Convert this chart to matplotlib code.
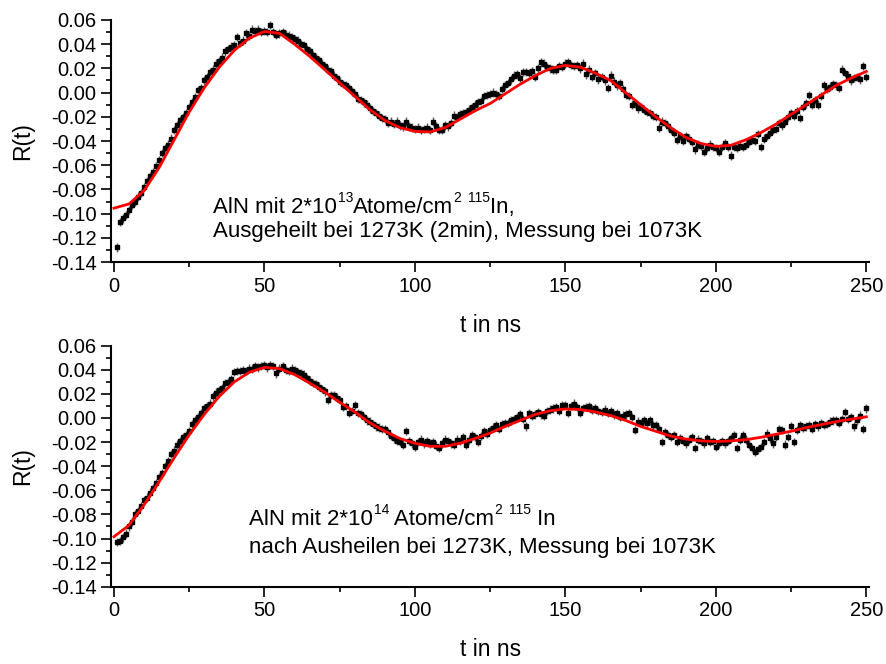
import numpy as np
import matplotlib
matplotlib.use("Agg")
import matplotlib.pyplot as plt
from matplotlib.ticker import MultipleLocator, FormatStrFormatter

plt.rcParams['font.family'] = ['Liberation Sans', 'DejaVu Sans']

## Messdaten (t = 1 ... 250 ns)
t_mess = np.arange(1, 251)

r_oben = [
    -0.128, -0.107, -0.104, -0.101, -0.097, -0.093, -0.090, -0.086, -0.083, -0.078,
    -0.073, -0.069, -0.066, -0.061, -0.056, -0.050, -0.046, -0.043, -0.038, -0.031,
    -0.027, -0.023, -0.020, -0.017, -0.012, -0.008, -0.004, 0.002, 0.004, 0.010,
    0.013, 0.017, 0.019, 0.024, 0.026, 0.029, 0.034, 0.036, 0.038, 0.039,
    0.046, 0.041, 0.043, 0.049, 0.047, 0.052, 0.051, 0.052, 0.050, 0.051,
    0.050, 0.056, 0.050, 0.048, 0.049, 0.050, 0.048, 0.047, 0.046, 0.044,
    0.043, 0.040, 0.039, 0.036, 0.034, 0.031, 0.029, 0.027, 0.024, 0.022,
    0.019, 0.018, 0.014, 0.012, 0.009, 0.007, 0.006, 0.004, 0.001, -0.001,
    -0.005, -0.006, -0.008, -0.010, -0.013, -0.015, -0.017, -0.019, -0.021, -0.022,
    -0.025, -0.024, -0.026, -0.024, -0.027, -0.028, -0.024, -0.028, -0.029, -0.030,
    -0.029, -0.031, -0.030, -0.029, -0.031, -0.024, -0.028, -0.031, -0.031, -0.027,
    -0.028, -0.025, -0.019, -0.020, -0.018, -0.017, -0.016, -0.014, -0.012, -0.010,
    -0.008, -0.007, -0.003, -0.002, -0.001, 0.000, -0.001, -0.003, 0.003, 0.006,
    0.008, 0.011, 0.014, 0.015, 0.012, 0.017, 0.017, 0.016, 0.018, 0.013,
    0.020, 0.025, 0.024, 0.021, 0.020, 0.019, 0.019, 0.022, 0.021, 0.024,
    0.025, 0.023, 0.022, 0.023, 0.020, 0.024, 0.015, 0.019, 0.013, 0.016,
    0.011, 0.013, 0.010, 0.004, 0.014, 0.009, 0.006, 0.008, 0.003, -0.002,
    -0.003, -0.010, -0.009, -0.013, -0.012, -0.014, -0.016, -0.017, -0.019, -0.020,
    -0.029, -0.024, -0.025, -0.028, -0.031, -0.033, -0.039, -0.036, -0.040, -0.036,
    -0.038, -0.041, -0.047, -0.043, -0.044, -0.049, -0.046, -0.043, -0.045, -0.046,
    -0.049, -0.045, -0.042, -0.045, -0.052, -0.045, -0.046, -0.044, -0.045, -0.043,
    -0.041, -0.039, -0.040, -0.034, -0.045, -0.038, -0.036, -0.033, -0.031, -0.030,
    -0.025, -0.027, -0.024, -0.020, -0.017, -0.019, -0.015, -0.021, -0.012, -0.009,
    -0.002, -0.010, -0.006, -0.010, -0.003, 0.006, 0.003, 0.005, 0.007, 0.006,
    0.004, 0.019, 0.016, 0.014, 0.010, 0.012, 0.013, 0.011, 0.022, 0.013,
]

r_unten = [
    -0.103, -0.102, -0.099, -0.096, -0.090, -0.086, -0.080, -0.077, -0.073, -0.068,
    -0.066, -0.062, -0.058, -0.054, -0.049, -0.046, -0.040, -0.036, -0.030, -0.027,
    -0.022, -0.019, -0.016, -0.014, -0.011, -0.005, -0.002, 0.001, 0.004, 0.008,
    0.010, 0.012, 0.018, 0.021, 0.023, 0.025, 0.029, 0.030, 0.032, 0.038,
    0.039, 0.039, 0.040, 0.039, 0.041, 0.041, 0.043, 0.042, 0.043, 0.044,
    0.042, 0.044, 0.043, 0.037, 0.041, 0.043, 0.040, 0.039, 0.041, 0.040,
    0.038, 0.037, 0.036, 0.033, 0.031, 0.029, 0.028, 0.026, 0.024, 0.022,
    0.015, 0.019, 0.019, 0.017, 0.015, 0.009, 0.010, 0.004, 0.006, 0.011,
    0.004, 0.003, 0.001, -0.002, -0.003, -0.005, -0.007, -0.008, -0.009, -0.009,
    -0.012, -0.015, -0.017, -0.019, -0.020, -0.022, -0.011, -0.019, -0.021, -0.024,
    -0.020, -0.018, -0.021, -0.019, -0.021, -0.020, -0.023, -0.025, -0.021, -0.018,
    -0.019, -0.021, -0.022, -0.018, -0.019, -0.016, -0.022, -0.018, -0.014, -0.016,
    -0.020, -0.015, -0.011, -0.013, -0.010, -0.008, -0.006, -0.009, -0.005, -0.004,
    -0.004, -0.002, -0.001, 0.001, 0.003, -0.001, -0.007, 0.004, 0.002, 0.003,
    0.005, 0.003, 0.002, 0.006, 0.007, 0.008, 0.009, 0.006, 0.011, 0.011,
    0.004, 0.010, 0.012, 0.009, 0.004, 0.008, 0.009, 0.010, 0.007, 0.008,
    0.006, 0.005, 0.007, 0.004, 0.006, 0.003, 0.004, 0.001, 0.002, 0.003,
    0.004, 0.001, -0.010, -0.003, -0.004, -0.002, -0.004, -0.002, -0.006, -0.006,
    -0.009, -0.020, -0.012, -0.014, -0.016, -0.014, -0.020, -0.017, -0.019, -0.021,
    -0.018, -0.016, -0.025, -0.018, -0.019, -0.021, -0.017, -0.020, -0.019, -0.024,
    -0.021, -0.019, -0.021, -0.019, -0.017, -0.014, -0.025, -0.018, -0.014, -0.018,
    -0.022, -0.025, -0.028, -0.026, -0.024, -0.020, -0.013, -0.017, -0.021, -0.016,
    -0.009, -0.010, -0.022, -0.016, -0.007, -0.020, -0.010, -0.006, -0.008, -0.007,
    -0.006, -0.009, -0.005, -0.007, -0.004, -0.006, -0.005, -0.003, -0.002, -0.002,
    -0.004, -0.001, 0.005, -0.001, 0.001, -0.007, -0.002, 0.002, -0.009, 0.008,
]

fehler = 0.0035

## Fitkurven (alle 5 ns)
t_fit = np.arange(0, 251, 5)

fit_oben = [
    -0.0955, -0.092, -0.081, -0.062, -0.039, -0.016, 0.004, 0.021, 0.035, 0.045,
    0.0505, 0.049, 0.040, 0.030, 0.019, 0.008, -0.003, -0.014, -0.023, -0.029,
    -0.032, -0.0325, -0.029, -0.022, -0.015, -0.009, -0.001, 0.007, 0.014, 0.020,
    0.0225, 0.021, 0.016, 0.010, 0.000, -0.010, -0.020, -0.029, -0.037, -0.042,
    -0.0445, -0.0435, -0.039, -0.033, -0.026, -0.018, -0.010, -0.002, 0.006, 0.012,
    0.0175,
]

fit_unten = [
    -0.0985, -0.089, -0.072, -0.053, -0.033, -0.014, 0.003, 0.018, 0.030, 0.038,
    0.042, 0.041, 0.036, 0.029, 0.0215, 0.013, 0.005, -0.004, -0.011, -0.017,
    -0.021, -0.0235, -0.0235, -0.021, -0.017, -0.0125, -0.007, -0.002, 0.003, 0.006,
    0.0075, 0.007, 0.005, 0.002, -0.002, -0.007, -0.011, -0.015, -0.0175, -0.019,
    -0.0195, -0.019, -0.018, -0.016, -0.0135, -0.011, -0.008, -0.0055, -0.003, -0.001,
    0.001,
]

# Beschriftung: (Text, hochgestellt?)
zeile1 = [
    [("AlN mit 2*10", False), ("13", True), ("Atome/cm", False), ("2", True),
     (" ", False), ("115", True), ("In,", False)],
    [("AlN mit 2*10", False), ("14", True), (" Atome/cm", False), ("2", True),
     (" ", False), ("115", True), (" In", False)],
]
zeile2 = ["Ausgeheilt bei 1273K (2min), Messung bei 1073K",
          "nach Ausheilen bei 1273K, Messung bei 1073K"]
text_x = [33, 45]
text_y = [(-0.0995, -0.1195), (-0.0888, -0.1118)]


def hochtext(ax, x, y, teile, gr=16, gr_hoch=10):
    vorher = None
    for s, hoch in teile:
        if vorher is None:
            vorher = ax.text(x, y, s, fontsize=gr, va="baseline", ha="left")
            continue
        vorher = ax.annotate(s, xy=(1, y), xycoords=(vorher, "data"),
                             xytext=(0.3 if hoch else 0, 8 if hoch else 0),
                             textcoords="offset points",
                             fontsize=gr_hoch if hoch else gr,
                             va="baseline", ha="left")


fig = plt.figure(figsize=(8.87, 6.64), dpi=100)
ax_oben = fig.add_axes([0.1251, 0.6054, 0.855, 0.3645])
ax_unten = fig.add_axes([0.1251, 0.1164, 0.855, 0.3630])

for i, (ax, r, fit) in enumerate([(ax_oben, r_oben, fit_oben),
                                  (ax_unten, r_unten, fit_unten)]):
    ax.errorbar(t_mess, r, yerr=fehler, fmt="s", color="black", ms=3.4,
                ecolor="0.35", elinewidth=1.0, capsize=0, zorder=2)
    ax.plot(t_fit, fit, color="red", lw=2.0, zorder=3)

    ax.set_xlim(-1, 251)
    ax.set_ylim(-0.14, 0.06)
    ax.xaxis.set_major_locator(MultipleLocator(50))
    ax.xaxis.set_minor_locator(MultipleLocator(25))
    ax.yaxis.set_major_locator(MultipleLocator(0.02))
    ax.yaxis.set_minor_locator(MultipleLocator(0.01))
    ax.yaxis.set_major_formatter(FormatStrFormatter("%.2f"))

    ax.spines['right'].set_visible(False)
    ax.spines['top'].set_visible(False)
    ax.spines['left'].set_linewidth(1.5)
    ax.spines['bottom'].set_linewidth(1.5)
    ax.tick_params(which="major", direction="out", length=7, width=1.2, labelsize=14.5)
    ax.tick_params(which="minor", direction="out", length=3.5, width=1.2)

    ax.set_xlabel("t in ns", fontsize=16.5, labelpad=13)
    ax.set_ylabel("R(t)", fontsize=16.5, labelpad=12)

    hochtext(ax, text_x[i], text_y[i][0], zeile1[i])
    ax.text(text_x[i], text_y[i][1], zeile2[i], fontsize=16, va="baseline")

fig.savefig("out.png", dpi=100)
